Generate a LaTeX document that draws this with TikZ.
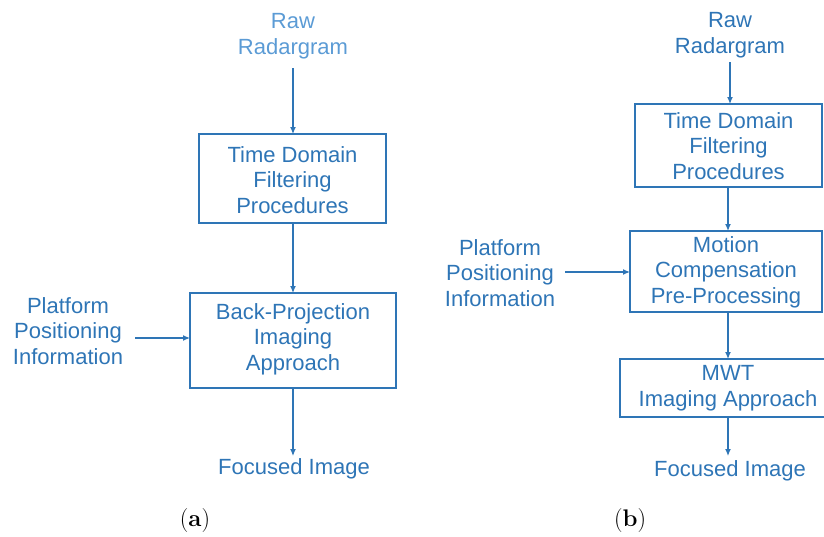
\documentclass[tikz,border=0pt]{standalone}
\usepackage{fontspec}
\setmainfont{Liberation Sans}
\newfontfamily\capfont{Latin Modern Roman}
\usetikzlibrary{arrows.meta}
\definecolor{flowblue}{HTML}{2E75B6}
\definecolor{lightblue}{HTML}{5B9BD5}
\begin{document}
\begin{tikzpicture}[x=1pt,y=-1pt,
  lbl/.style={text=flowblue,font=\fontsize{22}{25.5}\selectfont,align=center,inner sep=0pt},
  stepbox/.style={draw=flowblue,line width=1.4pt,minimum width=0pt,inner sep=0pt},
  flow/.style={draw=flowblue,line width=1.2pt,-{Latex[length=7pt,width=6pt]}},
  captext/.style={font=\capfont\fontsize{24}{26}\selectfont,inner sep=0pt}]
\useasboundingbox (0,0) rectangle (824,536);
\begin{scope}
\clip (0,0) rectangle (824,536);

% ---- (a) ----
\node[lbl,text=lightblue] (rawA) at (293,36) {Raw\\Radargram};
\draw[stepbox] (199,134) rectangle (386,223);
\coordinate (tdA) at (292.5,180);
\node[lbl] at (tdA) {Time Domain\\Filtering\\Procedures};
\coordinate (tdAn) at (293,134);
\coordinate (tdAs) at (293,223);
\draw[stepbox] (190,293) rectangle (396,388);
\node[lbl] (bpA) at (293,339) {Back-Projection\\Imaging\\Approach};
\coordinate (bpAn) at (293,293);
\coordinate (bpAs) at (293,388);
\coordinate (bpAw) at (190,338);
\node[lbl] (ppA) at (68,331) {Platform\\Positioning\\Information};
\node[lbl] (fiA) at (294,469) {Focused Image};
\coordinate (rawAs) at (293,68);
\coordinate (ppAe) at (135,338);
\coordinate (fiAn) at (293,456);

\draw[flow] (rawAs) -- (tdAn);
\draw[flow] (tdAs) -- (bpAn);
\draw[flow] (ppAe) -- (bpAw);
\draw[flow] (bpAs) -- (fiAn);

% ---- (b) ----
\node[lbl] (rawB) at (730,35) {Raw\\Radargram};
\draw[stepbox] (635,104) rectangle (822,187);
\node[lbl] (tdB) at (728.5,146) {Time Domain\\Filtering\\Procedures};
\draw[stepbox] (630,231) rectangle (822,312);
\node[lbl] (mcB) at (726,272) {Motion\\Compensation\\Pre-Processing};
\draw[stepbox] (620,359) rectangle (840,417);
\node[lbl] (mwB) at (728,388) {MWT\\Imaging Approach};
\node[lbl] (ppB) at (500,273) {Platform\\Positioning\\Information};
\node[lbl] (fiB) at (730,471) {Focused Image};
\coordinate (rawBs) at (730,62);
\coordinate (tdBn) at (730,104);
\coordinate (tdBs) at (728,187);
\coordinate (mcBn) at (728,231);
\coordinate (mcBs) at (728,312);
\coordinate (mcBw) at (630,272);
\coordinate (ppBe) at (565,272);
\coordinate (mwBn) at (728,359);
\coordinate (mwBs) at (728,417);
\coordinate (fiBn) at (728,456);

\draw[flow] (rawBs) -- (tdBn);
\draw[flow] (tdBs) -- (mcBn);
\draw[flow] (ppBe) -- (mcBw);
\draw[flow] (mcBs) -- (mwBn);
\draw[flow] (mwBs) -- (fiBn);
\end{scope}

% ---- captions ----
\node[captext] (capA) at (195,521) {(\textbf{a})};
\node[captext] (capB) at (630,521) {(\textbf{b})};
\end{tikzpicture}
\end{document}
